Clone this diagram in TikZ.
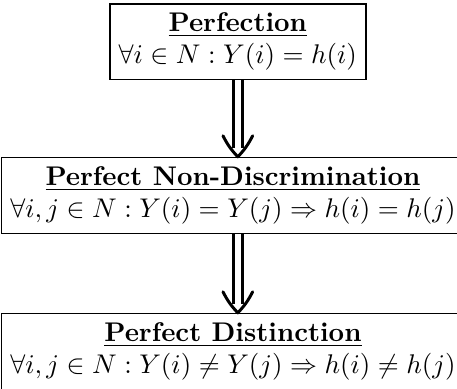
\documentclass[tikz,border=0pt]{standalone}
\usetikzlibrary{calc}
\begin{document}
\begin{tikzpicture}[x=1pt,y=1pt,
  box/.style={draw, line width=0.6pt, align=center, inner sep=3.3pt},
  shaft/.style={double, double distance=2.2pt, line width=1.1pt, shorten >=3.3pt},
  barb/.style={line width=1.1pt, line cap=round, line join=round}]
\useasboundingbox (0,0) rectangle (169.3,-144.1);
\node[box, anchor=north] (top) at (88.1,-1.1)
  {\underline{\textbf{Perfection}}\\ $\forall i\in N: Y(i)=h(i)$};
\node[box, anchor=north] (mid) at (86.3,-58.1)
  {\underline{\textbf{Perfect Non-Discrimination}}\\ $\forall i,j\in N: Y(i)=Y(j)\Rightarrow h(i)=h(j)$};
\node[box, anchor=north] (bot) at (86.3,-115.9)
  {\underline{\textbf{Perfect Distinction}}\\ $\forall i,j\in N: Y(i)\neq Y(j)\Rightarrow h(i)\neq h(j)$};
\coordinate (t1) at (top.south |- mid.north);
\coordinate (s2) at (top.south |- mid.south);
\coordinate (t2) at (top.south |- bot.north);
\draw[shaft] (top.south) -- (t1);
\draw[barb] ($(t1)+(-5.5,7.8)$) to[bend right=8] (t1) to[bend right=8] ($(t1)+(5.5,7.8)$);
\draw[shaft] (s2) -- (t2);
\draw[barb] ($(t2)+(-5.5,7.8)$) to[bend right=8] (t2) to[bend right=8] ($(t2)+(5.5,7.8)$);
\end{tikzpicture}
\end{document}
